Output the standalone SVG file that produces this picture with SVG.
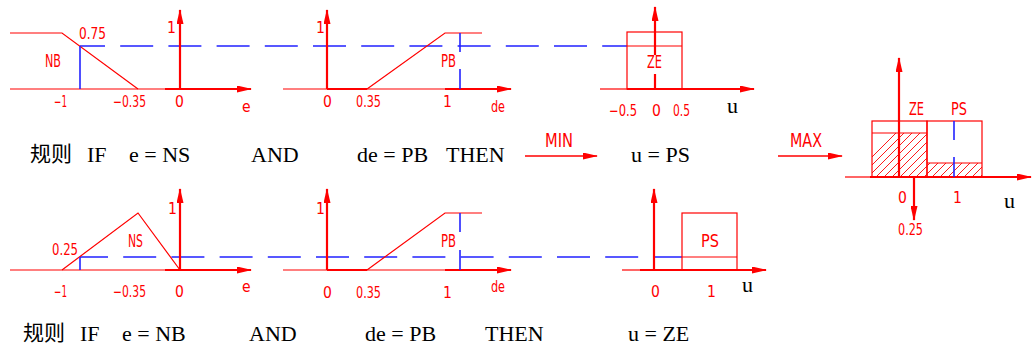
<svg xmlns="http://www.w3.org/2000/svg" width="1032" height="349" viewBox="0 0 1032 349">
<style>
.r{stroke:#ff0000;stroke-width:1.2;fill:none}
.rt{stroke:#ff0000;stroke-width:2.2;fill:none}
.h{stroke:#ff0000;stroke-width:0.9;fill:none}
.b{stroke:#2222ff;stroke-width:1.6;fill:none}
.bd{stroke:#2222ff;stroke-width:1.6;fill:none;stroke-dasharray:33 15.2}
.lab{fill:#ff0000;font-family:"DejaVu Sans Condensed","Liberation Sans Narrow","DejaVu Sans",sans-serif;font-stretch:condensed;font-size:15.5px}
.big{font-size:17px}
.op{font-size:19px}
.tx{fill:#000;font-family:"Liberation Serif","Times New Roman",serif;font-size:22px}
.cjk{fill:#000;font-family:"Noto Sans CJK SC",sans-serif;font-size:21px}
.ax{marker-end:url(#ah)}
</style>
<defs>
<marker id="ah" markerUnits="userSpaceOnUse" markerWidth="15" markerHeight="7" refX="14" refY="3.5" orient="auto">
<path d="M0,0 L15,3.5 L0,7 z" fill="#ff0000"/>
</marker>
<clipPath id="hclip">
<polygon points="872,133 927,133 927,163 982,163 982,177 872,177"/>
</clipPath>
</defs>

<g id="connectors">
<line class="bd" x1="80" y1="46" x2="627" y2="46" stroke-dashoffset="8"/>
<line class="bd" x1="80" y1="257" x2="682" y2="257" stroke-dashoffset="5"/>
<line class="r ax" x1="525" y1="156" x2="597" y2="156" style="stroke-width:1.6"/>
<line class="r ax" x1="778" y1="156" x2="842" y2="156" style="stroke-width:1.6"/>
</g>

<g id="top-e-NB">
<line class="r" x1="10" y1="89" x2="165" y2="89"/>
<line class="rt ax" x1="165" y1="89" x2="251" y2="89"/>
<polyline class="r" points="10,33 62,33 138,89"/>
<line class="b" x1="80" y1="46" x2="80" y2="89"/>
<line class="rt ax" x1="180" y1="89" x2="180" y2="10"/>
<text class="lab" x="79" y="39" textLength="27" lengthAdjust="spacingAndGlyphs">0.75</text>
<text class="lab big" x="45" y="67" textLength="16" lengthAdjust="spacingAndGlyphs">NB</text>
<text class="lab" x="167" y="33">1</text>
<text class="lab" x="54" y="107" textLength="13" lengthAdjust="spacingAndGlyphs">−1</text>
<text class="lab" x="113" y="107" textLength="33" lengthAdjust="spacingAndGlyphs">−0.35</text>
<text class="lab" x="175" y="107">0</text>
<text class="lab" x="242" y="112">e</text>
</g>

<g id="top-de-PB">
<line class="r" x1="283" y1="89" x2="510" y2="89"/>
<line class="rt" x1="327" y1="89" x2="367" y2="89"/>
<line class="rt ax" x1="445" y1="89" x2="511" y2="89"/>
<polyline class="r" points="367,89 445,33 482,33"/>
<line class="b" x1="460" y1="33" x2="460" y2="52"/>
<line class="b" x1="460" y1="69" x2="460" y2="89"/>
<line class="rt ax" x1="327" y1="89" x2="327" y2="10"/>
<text class="lab" x="316" y="33">1</text>
<text class="lab big" x="441" y="67" textLength="15" lengthAdjust="spacingAndGlyphs">PB</text>
<text class="lab" x="323" y="107">0</text>
<text class="lab" x="356" y="107" textLength="25" lengthAdjust="spacingAndGlyphs">0.35</text>
<text class="lab" x="443" y="107">1</text>
<text class="lab" x="491" y="112" textLength="14" lengthAdjust="spacingAndGlyphs">de</text>
</g>

<g id="top-u-ZE">
<line class="r" x1="600" y1="89" x2="627" y2="89"/>
<line class="rt ax" x1="627" y1="89" x2="754" y2="89"/>
<rect class="r" x="627" y="32" width="55" height="57"/>
<line class="r" x1="627" y1="46" x2="682" y2="46"/>
<line class="rt" x1="655" y1="89" x2="655" y2="74"/>
<line class="rt ax" x1="655" y1="55" x2="655" y2="7"/>
<text class="lab big" x="647" y="68" textLength="15" lengthAdjust="spacingAndGlyphs">ZE</text>
<text class="lab" x="609" y="116" textLength="28" lengthAdjust="spacingAndGlyphs">−0.5</text>
<text class="lab" x="652" y="116">0</text>
<text class="lab" x="673" y="116" textLength="17" lengthAdjust="spacingAndGlyphs">0.5</text>
<text class="tx" x="727" y="113">u</text>
</g>

<g id="rule1">
<text class="cjk" x="30" y="161">规则</text>
<text class="tx" x="87" y="162">IF</text>
<text class="tx" x="129" y="162">e = NS</text>
<text class="tx" x="251" y="162">AND</text>
<text class="tx" x="357" y="162">de = PB</text>
<text class="tx" x="446" y="162">THEN</text>
<text class="lab op" x="545" y="147" textLength="28" lengthAdjust="spacingAndGlyphs">MIN</text>
<text class="tx" x="631" y="162">u = PS</text>
<text class="lab op" x="790" y="147" textLength="32" lengthAdjust="spacingAndGlyphs">MAX</text>
</g>

<g id="result">
<g clip-path="url(#hclip)">
<path class="h" d="M852,177 L896,133 M860,177 L904,133 M868,177 L912,133 M876,177 L920,133 M884,177 L928,133 M892,177 L936,133 M900,177 L944,133 M908,177 L952,133 M916,177 L960,133 M924,177 L968,133 M932,177 L976,133 M940,177 L984,133 M948,177 L992,133 M956,177 L1000,133 M964,177 L1008,133 M972,177 L1016,133 M980,177 L1024,133"/>
</g>
<line class="r" x1="845" y1="177" x2="870" y2="177"/>
<line class="rt ax" x1="870" y1="177" x2="1031" y2="177"/>
<rect class="r" x="872" y="121" width="55" height="56"/>
<rect class="r" x="927" y="121" width="55" height="56"/>
<line class="r" x1="872" y1="133" x2="927" y2="133"/>
<line class="r" x1="927" y1="163" x2="982" y2="163"/>
<line class="b" x1="954" y1="121" x2="954" y2="140"/>
<line class="b" x1="954" y1="157" x2="954" y2="177"/>
<line class="rt ax" x1="899" y1="177" x2="899" y2="58"/>
<line class="rt ax" x1="914" y1="177" x2="914" y2="220"/>
<text class="lab big" x="909" y="115" textLength="15" lengthAdjust="spacingAndGlyphs">ZE</text>
<text class="lab big" x="951" y="115" textLength="16" lengthAdjust="spacingAndGlyphs">PS</text>
<text class="lab" x="898" y="203">0</text>
<text class="lab" x="953" y="203">1</text>
<text class="lab" x="898" y="235" textLength="25" lengthAdjust="spacingAndGlyphs">0.25</text>
<text class="tx" x="1004" y="208">u</text>
</g>

<g id="bottom-e-NS">
<line class="r" x1="10" y1="270" x2="165" y2="270"/>
<line class="rt ax" x1="165" y1="270" x2="251" y2="270"/>
<polyline class="r" points="62,270 138,213 180,270"/>
<line class="b" x1="80" y1="257" x2="80" y2="270"/>
<line class="rt ax" x1="180" y1="270" x2="180" y2="189"/>
<text class="lab" x="52" y="255" textLength="26" lengthAdjust="spacingAndGlyphs">0.25</text>
<text class="lab big" x="128" y="247" textLength="15" lengthAdjust="spacingAndGlyphs">NS</text>
<text class="lab" x="168" y="214">1</text>
<text class="lab" x="54" y="297" textLength="13" lengthAdjust="spacingAndGlyphs">−1</text>
<text class="lab" x="113" y="297" textLength="33" lengthAdjust="spacingAndGlyphs">−0.35</text>
<text class="lab" x="175" y="297">0</text>
<text class="lab" x="242" y="292">e</text>
</g>

<g id="bottom-de-PB">
<line class="r" x1="283" y1="270" x2="510" y2="270"/>
<line class="rt" x1="327" y1="270" x2="367" y2="270"/>
<line class="rt ax" x1="445" y1="270" x2="511" y2="270"/>
<polyline class="r" points="367,270 445,213 482,213"/>
<line class="b" x1="460" y1="213" x2="460" y2="232"/>
<line class="b" x1="460" y1="250" x2="460" y2="270"/>
<line class="rt ax" x1="327" y1="270" x2="327" y2="189"/>
<text class="lab" x="316" y="214">1</text>
<text class="lab big" x="441" y="247" textLength="15" lengthAdjust="spacingAndGlyphs">PB</text>
<text class="lab" x="323" y="298">0</text>
<text class="lab" x="356" y="298" textLength="25" lengthAdjust="spacingAndGlyphs">0.35</text>
<text class="lab" x="443" y="298">1</text>
<text class="lab" x="491" y="292" textLength="14" lengthAdjust="spacingAndGlyphs">de</text>
</g>

<g id="bottom-u-PS">
<line class="r" x1="622" y1="270" x2="640" y2="270"/>
<line class="rt ax" x1="640" y1="270" x2="766" y2="270"/>
<rect class="r" x="682" y="213" width="55" height="57"/>
<line class="r" x1="682" y1="257" x2="737" y2="257"/>
<line class="rt ax" x1="654" y1="270" x2="654" y2="189"/>
<text class="lab big" x="701" y="247" textLength="18" lengthAdjust="spacingAndGlyphs">PS</text>
<text class="lab" x="651" y="297">0</text>
<text class="lab" x="707" y="297">1</text>
<text class="tx" x="742" y="292">u</text>
</g>

<g id="rule2">
<text class="cjk" x="23" y="340">规则</text>
<text class="tx" x="80" y="341">IF</text>
<text class="tx" x="122" y="341">e = NB</text>
<text class="tx" x="249" y="341">AND</text>
<text class="tx" x="365" y="341">de = PB</text>
<text class="tx" x="485" y="341">THEN</text>
<text class="tx" x="628" y="341">u = ZE</text>
</g>
</svg>
